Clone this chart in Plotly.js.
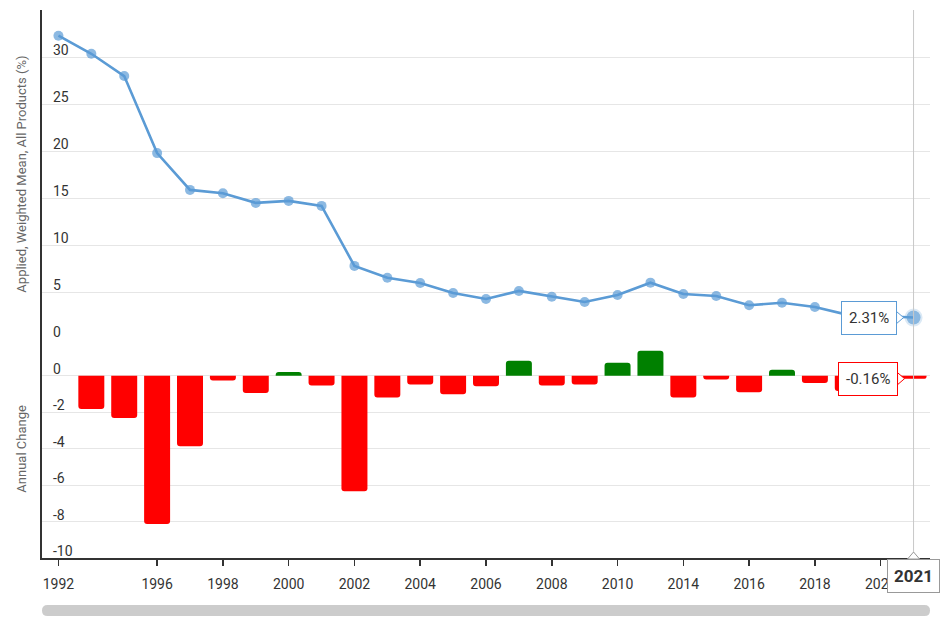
<!DOCTYPE html>
<html>
<head>
<meta charset="utf-8">
<script src="https://cdn.plot.ly/plotly-3.0.1.min.js"></script>
<style>html,body{margin:0;padding:0;background:#fff}#chart{width:940px;height:640px}</style>
</head>
<body>
<div id="chart"></div>
<script>
const years = ['1992','1993','1995','1996','1997','1998','1999','2000','2001','2002','2003','2004','2005','2006','2007','2008','2009','2010','2011','2014','2015','2016','2017','2018','2019','2020','2021'];
const tariff = [32.27, 30.35, 27.98, 19.79, 15.88, 15.53, 14.50, 14.71, 14.18, 7.80, 6.55, 5.99, 4.93, 4.29, 5.14, 4.53, 3.97, 4.71, 6.02, 4.82, 4.61, 3.62, 3.89, 3.44, 2.60, 2.47, 2.31];
const change = [null, -1.83, -2.32, -8.13, -3.87, -0.26, -0.95, 0.20, -0.53, -6.34, -1.19, -0.48, -1.02, -0.58, 0.82, -0.53, -0.48, 0.71, 1.37, -1.19, -0.20, -0.91, 0.33, -0.40, -0.84, -0.13, -0.16];
const xTicks = ['1992','1996','1998','2000','2002','2004','2006','2008','2010','2014','2016','2018','2020'];
const topTicks = [0, 5, 10, 15, 20, 25, 30, 35];
const topTickText = ['0','5','10','15','20','25','30',''];
const bottomTicks = [-10, -8, -6, -4, -2, 0];
const bottomTickText = ['-10','-8','-6','-4','-2','0'];

const BLUE = '#5b9bd5', RED = '#ff0000', GREEN = '#008000';
const last = years.length - 1;
const FONT = 'Roboto, "Noto Sans", sans-serif';

const lineTrace = {
  type: 'scatter', mode: 'lines+markers',
  x: years, y: tariff, xaxis: 'x', yaxis: 'y2',
  line: {color: BLUE, width: 2.6},
  marker: {
    color: BLUE,
    size: years.map((_, i) => i === last ? 14 : 10),
    line: {color: years.map((_, i) => i === last ? 'rgba(91,155,213,0.3)' : BLUE), width: years.map((_, i) => i === last ? 4 : 0)}
  },
  hoverinfo: 'skip'
};
const barTrace = {
  type: 'bar', x: years, y: change, xaxis: 'x', yaxis: 'y',
  marker: {color: change.map(v => v === null ? RED : (v >= 0 ? GREEN : RED))},
  hoverinfo: 'skip'
};

const split = (558 - 339.3) / 548;
const tickFont = {family: FONT, size: 14, color: '#333'};

// y tick labels drawn inside the plot, just above each grid line
const yLabel = (yref, v, t) => ({
  xref: 'paper', yref: yref, x: 0, y: v, xanchor: 'left', yanchor: 'middle',
  xshift: 9, yshift: 7, showarrow: false, text: t, font: tickFont
});
const yTickAnns = topTicks.map((v, i) => yLabel('y2', v, topTickText[i])).filter(a => a.text !== '')
  .concat(bottomTicks.map((v, i) => yLabel('y', v, bottomTickText[i])));

const layout = {
  width: 940, height: 640,
  margin: {l: 42, r: 10, t: 10, b: 82},
  paper_bgcolor: '#fff', plot_bgcolor: '#fff',
  showlegend: false,
  bargap: 0.21,
  barcornerradius: 3,
  font: {family: FONT, color: '#333'},
  xaxis: {
    type: 'category', anchor: 'y', range: [-0.5, last + 0.5],
    showgrid: false, showline: true, linecolor: '#333', linewidth: 2,
    ticks: 'outside', ticklen: 6, tickcolor: '#333', tickwidth: 1.5,
    tickvals: xTicks, ticktext: xTicks, tickfont: tickFont,
    ticklabelstandoff: 6
  },
  yaxis: {
    domain: [0, split], range: [-10, 2],
    tickvals: bottomTicks, showticklabels: false,
    showline: true, linecolor: '#333', linewidth: 2,
    gridcolor: '#e6e6e6', gridwidth: 1, zeroline: false
  },
  yaxis2: {
    domain: [split, 1], range: [0, 35], anchor: 'x',
    tickvals: topTicks, showticklabels: false,
    showline: true, linecolor: '#333', linewidth: 2,
    gridcolor: '#e6e6e6', gridwidth: 1, zeroline: false
  },
  shapes: [
    {type: 'line', xref: 'x', yref: 'paper', x0: last, x1: last, y0: 0, y1: 1,
     line: {color: '#c8c8c8', width: 1}, layer: 'above'},
    {type: 'path', xref: 'paper', yref: 'paper', xsizemode: 'pixel', ysizemode: 'pixel',
     xanchor: 0, yanchor: 0,
     path: 'M 5.5,-47 L 882.5,-47 Q 888,-47 888,-52.5 Q 888,-58 882.5,-58 L 5.5,-58 Q 0,-58 0,-52.5 Q 0,-47 5.5,-47 Z',
     fillcolor: '#cccccc', line: {width: 0}, layer: 'above'},
    {type: 'path', xref: 'x', yref: 'y2', xsizemode: 'pixel', ysizemode: 'pixel',
     xanchor: last, yanchor: tariff[last],
     path: 'M -17,6 L -10,0 L -17,-6 Z', fillcolor: '#fff', line: {color: BLUE, width: 1}, layer: 'above'},
    {type: 'path', xref: 'x', yref: 'y', xsizemode: 'pixel', ysizemode: 'pixel',
     xanchor: last, yanchor: change[last],
     path: 'M -16,6 L -9,0 L -16,-6 Z', fillcolor: '#fff', line: {color: RED, width: 1}, layer: 'above'},
    {type: 'path', xref: 'x', yref: 'paper', xsizemode: 'pixel', ysizemode: 'pixel',
     xanchor: last, yanchor: 0,
     path: 'M -6,-1 L 0,6 L 6,-1 Z', fillcolor: '#fff', line: {color: '#999', width: 1}, layer: 'above'}
  ],
  annotations: yTickAnns.concat([
    {xref: 'paper', yref: 'paper', x: 0, y: (1 + split) / 2, xanchor: 'center', yanchor: 'middle',
     xshift: -20, textangle: -90, showarrow: false,
     text: 'Applied, Weighted Mean, All Products (%)', font: {family: FONT, size: 13, color: '#666'}},
    {xref: 'paper', yref: 'paper', x: 0, y: split / 2, xanchor: 'center', yanchor: 'middle',
     xshift: -20, textangle: -90, showarrow: false,
     text: 'Annual Change', font: {family: FONT, size: 13, color: '#666'}},
    {xref: 'x', yref: 'y2', x: last, y: tariff[last], xanchor: 'right', yanchor: 'middle', xshift: -17,
     showarrow: false, text: tariff[last].toFixed(2) + '%',
     bgcolor: '#fff', bordercolor: BLUE, borderwidth: 1, borderpad: 7,
     font: {family: FONT, size: 15, color: '#333'}},
    {xref: 'x', yref: 'y', x: last, y: change[last], xanchor: 'right', yanchor: 'middle', xshift: -16,
     showarrow: false, text: change[last].toFixed(2) + '%',
     bgcolor: '#fff', bordercolor: RED, borderwidth: 1, borderpad: 7,
     font: {family: FONT, size: 15, color: '#333'}},
    {xref: 'x', yref: 'paper', x: last, y: 0, xanchor: 'center', yanchor: 'top', yshift: -1,
     showarrow: false, text: '<b>' + years[last] + '</b>',
     bgcolor: '#fff', bordercolor: '#999', borderwidth: 1, borderpad: 6,
     font: {family: FONT, size: 17, color: '#333'}}
  ])
};

Plotly.newPlot('chart', [barTrace, lineTrace], layout, {displayModeBar: false, staticPlot: true});
</script>
</body>
</html>
